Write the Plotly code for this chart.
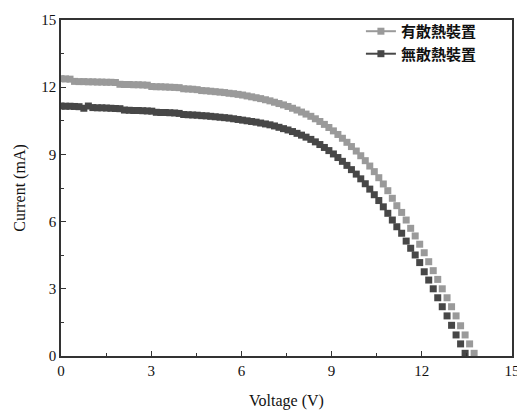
import plotly.graph_objects as go

voltage = [
    0.00, 0.15, 0.30, 0.45, 0.60, 0.76, 0.91, 1.06, 1.21, 1.36,
    1.51, 1.66, 1.81, 1.96, 2.11, 2.27, 2.42, 2.57, 2.72, 2.87,
    3.02, 3.17, 3.32, 3.47, 3.62, 3.78, 3.93, 4.08, 4.23, 4.38,
    4.53, 4.68, 4.83, 4.98, 5.13, 5.29, 5.44, 5.59, 5.74, 5.89,
    6.04, 6.19, 6.34, 6.49, 6.64, 6.80, 6.95, 7.10, 7.25, 7.40,
    7.55, 7.70, 7.85, 8.00, 8.15, 8.31, 8.46, 8.61, 8.76, 8.91,
    9.06, 9.21, 9.36, 9.51, 9.66, 9.82, 9.97, 10.12, 10.27, 10.42,
    10.57, 10.72, 10.87, 11.02, 11.17, 11.33, 11.48, 11.63, 11.78, 11.93,
    12.08, 12.23, 12.38, 12.53, 12.68, 12.84, 12.99, 13.14, 13.29, 13.44,
    13.59, 13.74,
]

current_with_cooling = [
    12.38, 12.37, 12.36, 12.26, 12.25, 12.25, 12.24, 12.24, 12.23, 12.23,
    12.22, 12.22, 12.21, 12.13, 12.12, 12.12, 12.11, 12.11, 12.10, 12.09,
    12.03, 12.02, 12.02, 12.01, 12.00, 11.99, 11.98, 11.93, 11.92, 11.91,
    11.89, 11.85, 11.84, 11.82, 11.80, 11.78, 11.76, 11.73, 11.71, 11.68,
    11.65, 11.61, 11.57, 11.53, 11.49, 11.44, 11.39, 11.33, 11.27, 11.21,
    11.14, 11.06, 10.98, 10.89, 10.80, 10.70, 10.59, 10.47, 10.34, 10.20,
    10.05, 9.89, 9.72, 9.54, 9.35, 9.15, 8.94, 8.72, 8.48, 8.23,
    7.96, 7.68, 7.38, 7.04, 6.71, 6.41, 6.07, 5.70, 5.36, 4.99,
    4.61, 4.21, 3.81, 3.42, 3.00, 2.60, 2.20, 1.79, 1.35, 0.94,
    0.54, 0.12,
]

current_without_cooling = [
    11.16, 11.15, 11.15, 11.14, 11.13, 11.06, 11.16, 11.09, 11.08, 11.08,
    11.07, 11.06, 11.05, 11.04, 10.98, 10.97, 10.96, 10.96, 10.95, 10.94,
    10.93, 10.88, 10.87, 10.87, 10.86, 10.85, 10.83, 10.78, 10.77, 10.76,
    10.75, 10.73, 10.72, 10.70, 10.68, 10.66, 10.64, 10.62, 10.59, 10.56,
    10.53, 10.50, 10.47, 10.44, 10.40, 10.36, 10.32, 10.27, 10.21, 10.15,
    10.09, 10.02, 9.94, 9.86, 9.77, 9.67, 9.56, 9.44, 9.31, 9.17,
    9.02, 8.86, 8.69, 8.51, 8.32, 8.12, 7.91, 7.69, 7.45, 7.20,
    6.94, 6.66, 6.37, 6.07, 5.77, 5.48, 5.13, 4.81, 4.51, 4.17,
    3.76, 3.39, 3.00, 2.60, 2.20, 1.79, 1.37, 0.94, 0.54, 0.12,
]

series_names = ["有散熱裝置", "無散熱裝置"]
series_colors = ["#9a9a9a", "#474747"]
series_values = [current_with_cooling, current_without_cooling]

tick_vals = [0, 3, 6, 9, 12, 15]
tick_text = ["0", "3", "6", "9", "12", "15"]

fig = go.Figure()

for name, color, vals in zip(series_names, series_colors, series_values):
    fig.add_trace(go.Scatter(
        x=voltage[:len(vals)], y=vals, mode="markers",
        marker=dict(symbol="square", size=7, color=color, line=dict(width=0)),
        showlegend=False, hoverinfo="skip",
    ))

for name, color in zip(series_names, series_colors):
    fig.add_trace(go.Scatter(
        x=[None], y=[None], mode="lines+markers", name=name,
        line=dict(color=color, width=2),
        marker=dict(symbol="square", size=7, color=color, line=dict(width=0)),
    ))

axis_common = dict(
    range=[0, 15], tickvals=tick_vals, ticktext=tick_text,
    ticks="inside", ticklen=5, tickwidth=1.3, tickcolor="#333",
    showline=True, linecolor="#333", linewidth=1.5, mirror=True,
    showgrid=False, zeroline=False, automargin=False,
    ticklabeloverflow="allow",
    tickfont=dict(family="Liberation Serif", size=15, color="#111"),
    minor=dict(dtick=1.5, ticks="inside", ticklen=3, tickcolor="#333", tickwidth=1.2, showgrid=False),
)

fig.update_layout(
    width=517, height=410,
    margin=dict(l=61, r=5, t=20, b=54),
    paper_bgcolor="white", plot_bgcolor="white",
    xaxis=dict(axis_common, title=dict(text="Voltage (V)", standoff=18,
               font=dict(family="Liberation Serif", size=16, color="#111"))),
    yaxis=dict(axis_common, title=dict(text="Current (mA)", standoff=12,
               font=dict(family="Liberation Serif", size=16, color="#111"))),
    legend=dict(x=0.665, y=1.015, xanchor="left", yanchor="top",
                bgcolor="rgba(0,0,0,0)", borderwidth=0,
                font=dict(family="Noto Sans CJK TC", size=15, color="#111", weight="bold"),
                itemwidth=30, tracegroupgap=0),
)

fig.write_html("out.html", config={"displayModeBar": False},
               post_script="document.body.style.margin='0';document.body.style.overflow='hidden';")
